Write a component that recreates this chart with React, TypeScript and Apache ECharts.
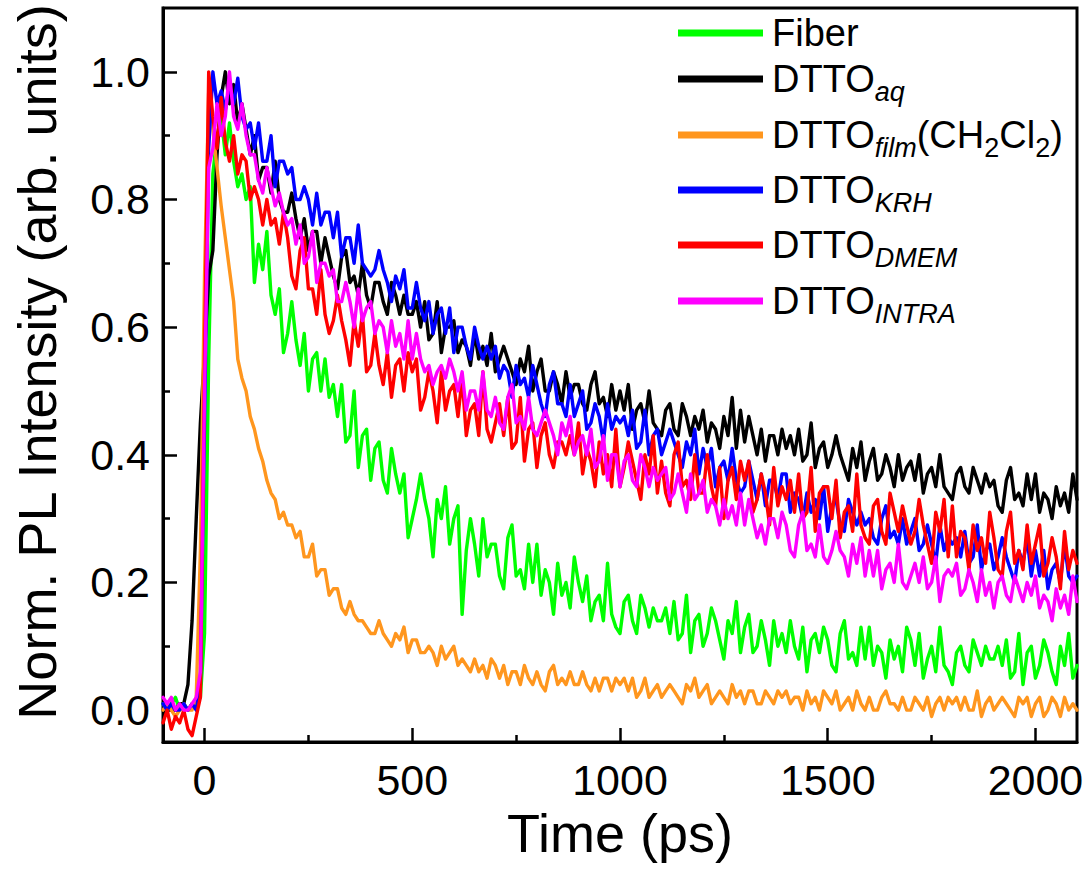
import { useEffect, useRef } from "react";
import * as echarts from "echarts";

// Time grid (ps): first sample and spacing of the measured traces
const T_START = -100;
const T_STEP = 10;

const xMajorTicks = [0, 500, 1000, 1500, 2000];
const xMinorTicks = [250, 750, 1250, 1750];
const yMajorTicks = [0, 0.2, 0.4, 0.6, 0.8, 1.0];
const yMinorTicks = [0.1, 0.3, 0.5, 0.7, 0.9];

const fiber = [
  0.01, 0.0, 0.01, 0.02, 0.0, 0.01, 0.0, 0.01, 0.01, 0.02,
  0.12, 0.55, 0.84, 0.9, 0.93, 0.87, 0.92, 0.86, 0.82, 0.84,
  0.8, 0.82, 0.67, 0.73, 0.69, 0.75, 0.65, 0.62, 0.66, 0.56,
  0.59, 0.64, 0.58, 0.54, 0.59, 0.5, 0.55, 0.56, 0.5, 0.55,
  0.49, 0.51, 0.46, 0.51, 0.42, 0.43, 0.5, 0.38, 0.43, 0.44,
  0.36, 0.41, 0.42, 0.36, 0.34, 0.41, 0.37, 0.34, 0.37, 0.27,
  0.3, 0.33, 0.37, 0.33, 0.3, 0.24, 0.33, 0.3, 0.35, 0.26,
  0.3, 0.32, 0.15, 0.25, 0.3, 0.26, 0.21, 0.3, 0.24, 0.26,
  0.26, 0.21, 0.19, 0.27, 0.29, 0.21, 0.22, 0.19, 0.26, 0.2,
  0.26, 0.18, 0.22, 0.2, 0.15, 0.23, 0.18, 0.2, 0.16, 0.24,
  0.2, 0.17, 0.21, 0.14, 0.17, 0.18, 0.14, 0.23, 0.15, 0.13,
  0.12, 0.17, 0.18, 0.14, 0.12, 0.18, 0.16, 0.13, 0.16, 0.14,
  0.14, 0.16, 0.12, 0.17, 0.11, 0.12, 0.18, 0.09, 0.14, 0.15,
  0.1, 0.12, 0.16, 0.14, 0.11, 0.08, 0.14, 0.12, 0.17, 0.09,
  0.13, 0.15, 0.09, 0.1, 0.14, 0.11, 0.07, 0.14, 0.1, 0.12,
  0.09, 0.14, 0.1, 0.08, 0.13, 0.06, 0.11, 0.12, 0.09, 0.13,
  0.11, 0.07, 0.06, 0.12, 0.14, 0.08, 0.09, 0.07, 0.13, 0.08,
  0.13, 0.07, 0.1, 0.09, 0.05, 0.11, 0.08, 0.1, 0.06, 0.13,
  0.11, 0.07, 0.12, 0.05, 0.08, 0.1, 0.06, 0.13, 0.07, 0.06,
  0.04, 0.09, 0.1, 0.07, 0.06, 0.11, 0.09, 0.07, 0.1, 0.08,
  0.08, 0.1, 0.07, 0.11, 0.05, 0.06, 0.12, 0.04, 0.09, 0.1,
  0.05, 0.07, 0.11, 0.09, 0.06, 0.04, 0.1, 0.07, 0.12, 0.05, 0.07,
];

const dttoAq = [
  0.0, 0.01, 0.0, 0.0, 0.01, 0.01, 0.04, 0.14, 0.3, 0.45,
  0.56, 0.68, 0.72, 0.87, 0.96, 1.0, 0.95, 0.98, 0.92, 0.95,
  0.91, 0.87, 0.9, 0.83, 0.85, 0.85, 0.81, 0.86, 0.8, 0.78,
  0.78, 0.81, 0.77, 0.74, 0.77, 0.72, 0.75, 0.75, 0.7, 0.74,
  0.71, 0.68, 0.66, 0.71, 0.72, 0.67, 0.68, 0.65, 0.7, 0.65,
  0.63, 0.67, 0.67, 0.64, 0.62, 0.67, 0.65, 0.62, 0.65, 0.62,
  0.62, 0.64, 0.6, 0.64, 0.58, 0.59, 0.64, 0.56, 0.6, 0.6,
  0.61, 0.56, 0.58, 0.57, 0.54, 0.59, 0.55, 0.57, 0.54, 0.59,
  0.53, 0.55, 0.57, 0.55, 0.53, 0.51, 0.55, 0.53, 0.57, 0.5,
  0.53, 0.55, 0.5, 0.5, 0.53, 0.51, 0.48, 0.53, 0.49, 0.51,
  0.51, 0.48, 0.47, 0.51, 0.53, 0.48, 0.49, 0.46, 0.51, 0.47,
  0.5, 0.47, 0.51, 0.44, 0.47, 0.48, 0.45, 0.5, 0.45, 0.44,
  0.43, 0.47, 0.48, 0.44, 0.43, 0.48, 0.46, 0.43, 0.46, 0.44,
  0.47, 0.42, 0.45, 0.44, 0.41, 0.46, 0.43, 0.49, 0.41, 0.47,
  0.42, 0.46, 0.43, 0.4, 0.44, 0.39, 0.43, 0.43, 0.4, 0.44,
  0.41, 0.43, 0.4, 0.44, 0.39, 0.4, 0.45, 0.38, 0.41, 0.42,
  0.38, 0.4, 0.43, 0.4, 0.38, 0.36, 0.41, 0.38, 0.42, 0.36,
  0.39, 0.41, 0.36, 0.37, 0.4, 0.38, 0.35, 0.4, 0.36, 0.38,
  0.39, 0.36, 0.4, 0.34, 0.37, 0.38, 0.35, 0.4, 0.35, 0.34,
  0.33, 0.37, 0.38, 0.35, 0.34, 0.38, 0.36, 0.34, 0.37, 0.35,
  0.36, 0.32, 0.31, 0.36, 0.38, 0.33, 0.34, 0.32, 0.37, 0.33,
  0.37, 0.31, 0.34, 0.33, 0.3, 0.35, 0.32, 0.34, 0.31, 0.37, 0.33,
];

const dttoFilm = [
  0.0, 0.01, 0.0, -0.01, 0.0, 0.01, 0.0, 0.0, 0.02, 0.25,
  0.68, 0.97, 0.91, 0.85, 0.79, 0.74, 0.69, 0.64, 0.55, 0.52,
  0.5, 0.46, 0.44, 0.41, 0.39, 0.36, 0.34, 0.33, 0.3, 0.31,
  0.29, 0.29, 0.27, 0.28, 0.24, 0.24, 0.26, 0.21, 0.22, 0.22,
  0.18, 0.19, 0.19, 0.16, 0.15, 0.17, 0.15, 0.14, 0.14, 0.13,
  0.12, 0.12, 0.14, 0.12, 0.11, 0.1, 0.12, 0.11, 0.13, 0.09,
  0.11, 0.11, 0.09, 0.09, 0.1, 0.09, 0.07, 0.1, 0.08, 0.09,
  0.1, 0.07, 0.08, 0.07, 0.06, 0.08, 0.06, 0.07, 0.05, 0.08,
  0.07, 0.05, 0.07, 0.04, 0.06, 0.06, 0.04, 0.07, 0.05, 0.04,
  0.06, 0.04, 0.03, 0.06, 0.07, 0.04, 0.05, 0.04, 0.06, 0.04,
  0.04, 0.06, 0.04, 0.03, 0.05, 0.03, 0.05, 0.05, 0.03, 0.05,
  0.04, 0.05, 0.03, 0.05, 0.02, 0.03, 0.05, 0.02, 0.03, 0.04,
  0.02, 0.03, 0.04, 0.03, 0.02, 0.01, 0.04, 0.03, 0.05, 0.02,
  0.03, 0.04, 0.01, 0.02, 0.03, 0.02, 0.01, 0.04, 0.02, 0.03,
  0.01, 0.03, 0.03, 0.01, 0.01, 0.03, 0.02, 0.01, 0.03, 0.02,
  0.03, 0.01, 0.02, 0.02, 0.0, 0.03, 0.01, 0.02, 0.0, 0.03,
  0.02, 0.01, 0.03, 0.0, 0.01, 0.02, 0.0, 0.03, 0.01, 0.0,
  0.02, 0.0, 0.0, 0.02, 0.03, 0.01, 0.01, 0.0, 0.02, 0.0,
  0.0, 0.02, 0.01, 0.0, 0.02, -0.01, 0.01, 0.02, 0.0, 0.02,
  0.01, 0.02, 0.0, 0.02, 0.0, 0.0, 0.03, -0.01, 0.01, 0.02,
  0.0, 0.01, 0.02, 0.01, 0.0, -0.01, 0.02, 0.01, 0.02, -0.01,
  0.01, 0.02, -0.01, 0.0, 0.02, 0.01, -0.01, 0.02, 0.0, 0.01, 0.0,
];

const dttoKrh = [
  0.01, 0.0, 0.01, 0.0, 0.0, 0.01, 0.0, 0.01, 0.0, 0.04,
  0.45, 0.88, 1.0, 0.95, 0.97, 0.94, 0.98, 0.95, 0.99, 0.93,
  0.91, 0.92, 0.88, 0.92, 0.86, 0.86, 0.9, 0.82, 0.86, 0.86,
  0.84, 0.85, 0.8, 0.8, 0.82, 0.8, 0.76, 0.81, 0.76, 0.78,
  0.78, 0.74, 0.78, 0.71, 0.74, 0.74, 0.7, 0.76, 0.7, 0.69,
  0.68, 0.69, 0.72, 0.69, 0.67, 0.64, 0.68, 0.66, 0.69, 0.63,
  0.63, 0.67, 0.63, 0.61, 0.64, 0.59, 0.62, 0.63, 0.59, 0.63,
  0.56, 0.6, 0.6, 0.57, 0.55, 0.6, 0.57, 0.55, 0.57, 0.55,
  0.57, 0.52, 0.54, 0.53, 0.49, 0.54, 0.51, 0.52, 0.49, 0.54,
  0.51, 0.48, 0.46, 0.51, 0.53, 0.48, 0.48, 0.46, 0.51, 0.46,
  0.48, 0.5, 0.44, 0.45, 0.48, 0.46, 0.42, 0.48, 0.44, 0.46,
  0.45, 0.46, 0.43, 0.47, 0.41, 0.42, 0.47, 0.4, 0.43, 0.44,
  0.4, 0.42, 0.44, 0.42, 0.4, 0.38, 0.42, 0.4, 0.44, 0.37,
  0.41, 0.38, 0.41, 0.35, 0.38, 0.39, 0.36, 0.41, 0.36, 0.34,
  0.35, 0.39, 0.36, 0.33, 0.37, 0.32, 0.36, 0.36, 0.33, 0.37,
  0.37, 0.31, 0.34, 0.33, 0.3, 0.34, 0.31, 0.33, 0.3, 0.35,
  0.28, 0.32, 0.33, 0.29, 0.28, 0.33, 0.31, 0.29, 0.31, 0.29,
  0.3, 0.27, 0.26, 0.3, 0.32, 0.27, 0.28, 0.26, 0.3, 0.26,
  0.28, 0.3, 0.25, 0.26, 0.29, 0.26, 0.23, 0.29, 0.25, 0.27,
  0.26, 0.27, 0.24, 0.28, 0.23, 0.24, 0.29, 0.22, 0.25, 0.26,
  0.22, 0.24, 0.27, 0.24, 0.22, 0.2, 0.25, 0.23, 0.27, 0.21,
  0.25, 0.21, 0.25, 0.19, 0.22, 0.23, 0.2, 0.26, 0.21, 0.2, 0.21,
];

const dttoDmem = [
  -0.02, 0.0, -0.03, -0.01, -0.02, 0.0, -0.03, -0.04, -0.01, 0.02,
  0.55, 1.0, 0.93, 0.88, 0.96, 0.89, 0.86, 0.9, 0.84, 0.87,
  0.86, 0.8, 0.82, 0.8, 0.76, 0.8, 0.76, 0.77, 0.73, 0.78,
  0.74, 0.68, 0.66, 0.72, 0.74, 0.66, 0.66, 0.62, 0.69, 0.62,
  0.59, 0.61, 0.65, 0.61, 0.58, 0.54, 0.61, 0.57, 0.62, 0.53,
  0.54, 0.59, 0.54, 0.51, 0.56, 0.49, 0.54, 0.55, 0.5, 0.56,
  0.53, 0.55, 0.47, 0.49, 0.53, 0.5, 0.45, 0.53, 0.47, 0.5,
  0.51, 0.46, 0.52, 0.43, 0.47, 0.48, 0.43, 0.53, 0.44, 0.42,
  0.45, 0.48, 0.43, 0.49, 0.41, 0.42, 0.49, 0.39, 0.44, 0.45,
  0.38, 0.43, 0.45, 0.4, 0.38, 0.42, 0.42, 0.4, 0.43, 0.4,
  0.45, 0.37, 0.41, 0.39, 0.35, 0.42, 0.37, 0.4, 0.35, 0.44,
  0.35, 0.38, 0.42, 0.39, 0.36, 0.33, 0.4, 0.37, 0.43, 0.34,
  0.39, 0.34, 0.32, 0.4, 0.42, 0.35, 0.36, 0.33, 0.4, 0.34,
  0.34, 0.4, 0.35, 0.32, 0.38, 0.3, 0.36, 0.38, 0.33, 0.39,
  0.36, 0.39, 0.31, 0.33, 0.37, 0.34, 0.29, 0.38, 0.32, 0.35,
  0.33, 0.36, 0.31, 0.37, 0.3, 0.31, 0.38, 0.28, 0.34, 0.35,
  0.35, 0.3, 0.36, 0.27, 0.31, 0.32, 0.28, 0.37, 0.29, 0.27,
  0.26, 0.32, 0.33, 0.28, 0.26, 0.34, 0.31, 0.28, 0.32, 0.29,
  0.26, 0.28, 0.33, 0.29, 0.26, 0.23, 0.31, 0.28, 0.33, 0.24,
  0.32, 0.24, 0.28, 0.27, 0.22, 0.29, 0.25, 0.27, 0.23, 0.31,
  0.27, 0.22, 0.21, 0.28, 0.31, 0.23, 0.25, 0.22, 0.29, 0.23,
  0.26, 0.29, 0.21, 0.23, 0.27, 0.24, 0.19, 0.28, 0.22, 0.25, 0.23,
];

const dttoIntra = [
  0.02, 0.01, 0.02, 0.0, 0.01, 0.0, 0.0, 0.01, 0.02, 0.06,
  0.5, 0.85, 0.88, 0.95, 0.9, 0.93, 1.0, 0.93, 0.91, 0.95,
  0.9, 0.87, 0.87, 0.83, 0.81, 0.85, 0.82, 0.79, 0.81, 0.78,
  0.76, 0.77, 0.73, 0.76, 0.7, 0.71, 0.75, 0.67, 0.7, 0.7,
  0.68, 0.69, 0.64, 0.64, 0.67, 0.64, 0.6, 0.66, 0.61, 0.63,
  0.64, 0.59, 0.61, 0.6, 0.56, 0.61, 0.57, 0.59, 0.55, 0.61,
  0.55, 0.59, 0.55, 0.53, 0.54, 0.51, 0.53, 0.54, 0.52, 0.55,
  0.53, 0.5, 0.53, 0.47, 0.5, 0.5, 0.47, 0.53, 0.47, 0.46,
  0.49, 0.45, 0.44, 0.49, 0.51, 0.45, 0.46, 0.44, 0.49, 0.44,
  0.43, 0.45, 0.47, 0.45, 0.43, 0.4, 0.45, 0.43, 0.46, 0.4,
  0.42, 0.43, 0.4, 0.44, 0.38, 0.39, 0.43, 0.36, 0.4, 0.4,
  0.35, 0.39, 0.4, 0.36, 0.35, 0.4, 0.38, 0.35, 0.38, 0.36,
  0.37, 0.38, 0.33, 0.34, 0.37, 0.34, 0.31, 0.37, 0.33, 0.34,
  0.36, 0.31, 0.33, 0.32, 0.29, 0.33, 0.3, 0.32, 0.29, 0.34,
  0.29, 0.33, 0.3, 0.27, 0.29, 0.26, 0.3, 0.3, 0.27, 0.31,
  0.29, 0.25, 0.24, 0.29, 0.31, 0.25, 0.26, 0.24, 0.29, 0.24,
  0.23, 0.25, 0.28, 0.25, 0.24, 0.21, 0.26, 0.23, 0.27, 0.21,
  0.25, 0.21, 0.25, 0.19, 0.22, 0.23, 0.2, 0.26, 0.2, 0.19,
  0.21, 0.23, 0.2, 0.24, 0.19, 0.2, 0.24, 0.17, 0.21, 0.22,
  0.21, 0.23, 0.18, 0.19, 0.22, 0.2, 0.17, 0.22, 0.18, 0.2,
  0.16, 0.2, 0.21, 0.18, 0.17, 0.21, 0.19, 0.17, 0.2, 0.18,
  0.21, 0.16, 0.18, 0.17, 0.14, 0.19, 0.16, 0.18, 0.15, 0.21, 0.17,
];

const seriesNames = ["Fiber", "DTTO aq", "DTTO film (CH2Cl2)", "DTTO KRH", "DTTO DMEM", "DTTO INTRA"];
const seriesValues = [fiber, dttoAq, dttoFilm, dttoKrh, dttoDmem, dttoIntra];
const seriesColors = ["#00FF00", "#000000", "#FF961E", "#0000FF", "#FF0000", "#FF00FF"];
const legendLabels = [
  "{m|Fiber}",
  "{m|DTTO}{s|aq}",
  "{m|DTTO}{s|film}{m|(CH}{n|2}{m|Cl}{n|2}{m|)}",
  "{m|DTTO}{s|KRH}",
  "{m|DTTO}{s|DMEM}",
  "{m|DTTO}{s|INTRA}",
];
const legendRowY = [33, 79, 135, 190, 245, 301];

const FONT = "'Liberation Sans', Arial, Helvetica, sans-serif";

export default function App() {
  const ref = useRef<HTMLDivElement>(null);

  useEffect(() => {
    if (!ref.current) return;
    const chart = echarts.init(ref.current, null, { renderer: "svg" });

    const gridBox = { left: 163, right: 14, top: 8, bottom: 127 };

    const series = seriesValues.map((vals, k) => ({
      type: "line",
      name: seriesNames[k],
      xAxisIndex: 0,
      yAxisIndex: 0,
      data: vals.map((v, i) => [T_START + i * T_STEP, v]),
      showSymbol: false,
      symbol: "none",
      clip: true,
      lineStyle: { color: seriesColors[k], width: 3.4, join: "round", cap: "round" },
      itemStyle: { color: seriesColors[k] },
      z: 2 + k,
    }));

    const rich = {
      m: { fontSize: 38, fontFamily: FONT, lineHeight: 38, fill: "#000", color: "#000" },
      s: {
        fontSize: 27, fontFamily: FONT, fontStyle: "italic", lineHeight: 10,
        verticalAlign: "top", padding: [18, 0, 0, 0], fill: "#000", color: "#000",
      },
      n: {
        fontSize: 27, fontFamily: FONT, lineHeight: 10,
        verticalAlign: "top", padding: [18, 0, 0, 0], fill: "#000", color: "#000",
      },
    };

    const legendGraphics: any[] = [];
    legendLabels.forEach((label, k) => {
      const cy = legendRowY[k];
      legendGraphics.push({
        type: "rect",
        shape: { x: 678, y: cy - 3.5, width: 85, height: 7 },
        style: { fill: seriesColors[k] },
        z: 100,
      });
      legendGraphics.push({
        type: "text",
        x: 772,
        y: cy,
        z: 100,
        style: {
          text: label,
          rich,
          fill: "#000",
          fontSize: 38,
          fontFamily: FONT,
          align: "left",
          verticalAlign: "middle",
          textAlign: "left",
          textVerticalAlign: "middle",
        },
      });
    });

    const tickStyle = { color: "#000", width: 2.5 };

    chart.setOption({
      animation: false,
      backgroundColor: "#ffffff",
      grid: [
        { ...gridBox, show: true, borderColor: "#000", borderWidth: 3, backgroundColor: "transparent", containLabel: false },
        { ...gridBox, show: false, containLabel: false },
      ],
      xAxis: [
        {
          type: "value",
          gridIndex: 0,
          min: -100,
          max: 2100,
          position: "bottom",
          axisLine: { show: true, onZero: false, lineStyle: { color: "#000", width: 3 } },
          axisTick: { show: true, inside: true, length: 14, customValues: xMajorTicks, lineStyle: tickStyle },
          axisLabel: {
            show: true, customValues: xMajorTicks, fontSize: 43, color: "#000", fontFamily: FONT, margin: 16,
            formatter: (v: number) => String(v),
          },
          splitLine: { show: false },
          name: "Time (ps)",
          nameLocation: "middle",
          nameGap: 64,
          nameTextStyle: { fontSize: 54, color: "#000", fontFamily: FONT },
        },
        {
          type: "value",
          gridIndex: 1,
          min: -100,
          max: 2100,
          position: "bottom",
          axisLine: { show: false, onZero: false },
          axisTick: { show: true, inside: true, length: 7, customValues: xMinorTicks, lineStyle: tickStyle },
          axisLabel: { show: false },
          splitLine: { show: false },
        },
      ],
      yAxis: [
        {
          type: "value",
          gridIndex: 0,
          min: -0.05,
          max: 1.1,
          position: "left",
          axisLine: { show: true, onZero: false, lineStyle: { color: "#000", width: 3 } },
          axisTick: { show: true, inside: true, length: 14, customValues: yMajorTicks, lineStyle: tickStyle },
          axisLabel: {
            show: true, customValues: yMajorTicks, fontSize: 43, color: "#000", fontFamily: FONT, margin: 13,
            formatter: (v: number) => v.toFixed(1),
          },
          splitLine: { show: false },
          name: "Norm. PL Intensity (arb. units)",
          nameLocation: "middle",
          nameGap: 99,
          nameTextStyle: { fontSize: 54, color: "#000", fontFamily: FONT, padding: [0, 0, 0, 26] },
        },
        {
          type: "value",
          gridIndex: 1,
          min: -0.05,
          max: 1.1,
          position: "left",
          axisLine: { show: false, onZero: false },
          axisTick: { show: true, inside: true, length: 7, customValues: yMinorTicks, lineStyle: tickStyle },
          axisLabel: { show: false },
          splitLine: { show: false },
        },
      ],
      series,
      graphic: legendGraphics,
    });

    return () => chart.dispose();
  }, []);

  return (
    <div
      ref={ref}
      style={{ position: "fixed", left: 0, top: 0, width: 1091, height: 869, background: "#fff" }}
    />
  );
}
